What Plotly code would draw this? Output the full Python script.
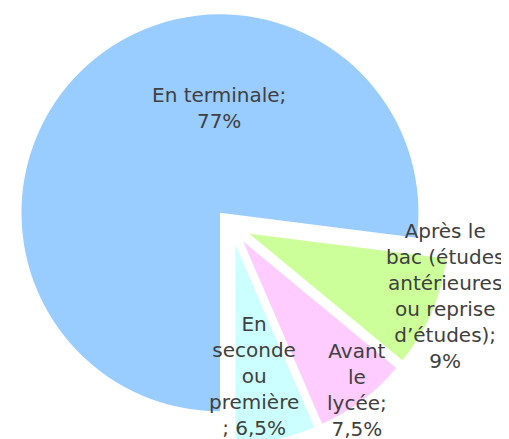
import plotly.graph_objects as go

# Data
categories = [
    "En terminale",
    "Après le bac (études antérieures ou reprise d’études)",
    "Avant le lycée",
    "En seconde ou première",
]
values = [77, 9, 7.5, 6.5]
# wrapped display labels (as in the original chart)
display_labels = [
    "En terminale;<br>{v}",
    "Après le<br>bac (études<br>antérieures<br>ou reprise<br>d’études);<br>{v}",
    "Avant<br>le<br>lycée;<br>{v}",
    "En<br>seconde<br>ou<br>première<br>; {v}",
]
colors = ["#99CCFF", "#CCFF99", "#FFCCFF", "#CCFFFF"]


def fmt(v):
    s = ("%g" % v).replace(".", ",")
    return s + "%"


W, H = 509, 439
fig = go.Figure()
fig.add_trace(go.Pie(
    labels=categories,
    values=values,
    sort=False,
    direction="clockwise",
    rotation=180,
    pull=[0.088, 0.098, 0.098, 0.098],
    marker=dict(colors=colors, line=dict(width=0)),
    textinfo="none",
    hoverinfo="skip",
    showlegend=False,
    domain=dict(x=[0, 447 / W], y=[0.007, 1]),
))

# label anchor positions (pixels)
label_pos = [(211, 100), (437, 288), (349, 382), (246, 368)]
font = dict(family="DejaVu Sans", size=20, color="#404040")
for txt, v, (px, py) in zip(display_labels, values, label_pos):
    fig.add_annotation(
        text=txt.format(v=fmt(v)),
        x=px / W, y=1 - py / H, xref="paper", yref="paper",
        xanchor="center", yanchor="middle", align="center",
        showarrow=False, font=font,
    )

fig.update_layout(
    width=W, height=H,
    margin=dict(l=0, r=0, t=0, b=0),
    paper_bgcolor="white", plot_bgcolor="white",
)
fig.write_html("out.html")
